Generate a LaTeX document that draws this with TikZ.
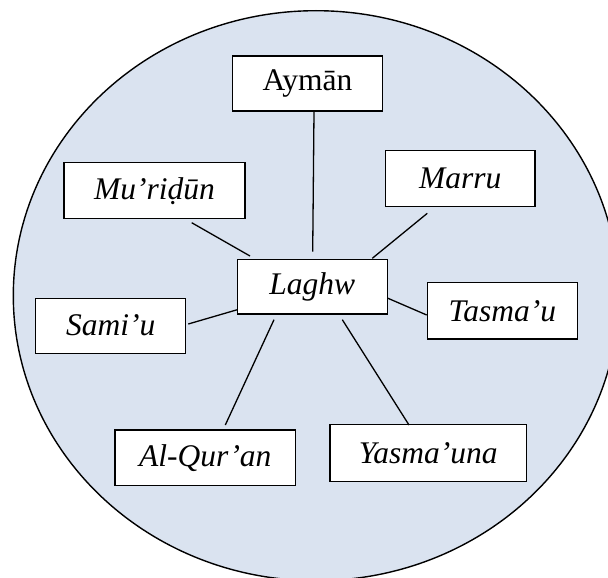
\documentclass[tikz,border=0pt]{standalone}
\usepackage{fontspec}
\setmainfont{Liberation Serif}
\definecolor{ellfill}{HTML}{DAE3F0}
\begin{document}
\begin{tikzpicture}[x=1pt,y=-1pt,
  wbox/.style={draw=black,line width=1.4pt,fill=white,inner sep=0pt,
    minimum width=150pt,minimum height=55pt,font=\fontsize{31.5}{37}\selectfont},
  conn/.style={draw=black,line width=1.3pt}]
\useasboundingbox (0,0) rectangle (608,578);
\clip (0,0) rectangle (608,578);
\draw[fill=ellfill,line width=1.4pt] (316,295.7) ellipse [x radius=302.7pt,y radius=285pt];
% boxes
\node[wbox] (ayman) at (307.5,83.5) {Aym\=an};
\node[wbox,minimum width=181pt,minimum height=56pt] (murid) at (154.5,190.7) {\itshape Mu’riḍūn};
\node[wbox,minimum width=149.3pt,minimum height=56pt] (marru) at (460.3,178.7) {\itshape Marru};
\node[wbox,minimum height=54.7pt] (laghw) at (312.3,286.7) {\itshape Laghw};
\node[wbox] (sami) at (110.7,325.7) {\itshape Sami’u};
\node[wbox,minimum height=56.3pt] (tasma) at (502.3,310.8) {\itshape Tasma’u};
\node[wbox,minimum width=180.7pt,minimum height=55.7pt] (quran) at (205.3,457.8) {\itshape Al-Qur’an};
\node[wbox,minimum width=196.3pt,minimum height=56.6pt] (yasma) at (428.2,453) {\itshape Yasma’una};
% connector end points
\coordinate (a1) at (314,112);   \coordinate (a2) at (312.7,251.7);
\coordinate (m1) at (191.7,222.7); \coordinate (m2) at (250,256);
\coordinate (r1) at (427.3,213.3); \coordinate (r2) at (372.3,258.3);
\coordinate (s1) at (188.3,324);   \coordinate (s2) at (237.3,309.7);
\coordinate (t1) at (388,298.3);   \coordinate (t2) at (426.7,315);
\coordinate (q1) at (274,319.7);   \coordinate (q2) at (225.3,425);
\coordinate (y1) at (342.3,319.7); \coordinate (y2) at (409,425);
\draw[conn] (a1) -- (a2);
\draw[conn] (m1) -- (m2);
\draw[conn] (r1) -- (r2);
\draw[conn] (s1) -- (s2);
\draw[conn] (t1) -- (t2);
\draw[conn] (q1) -- (q2);
\draw[conn] (y1) -- (y2);
\end{tikzpicture}
\end{document}
